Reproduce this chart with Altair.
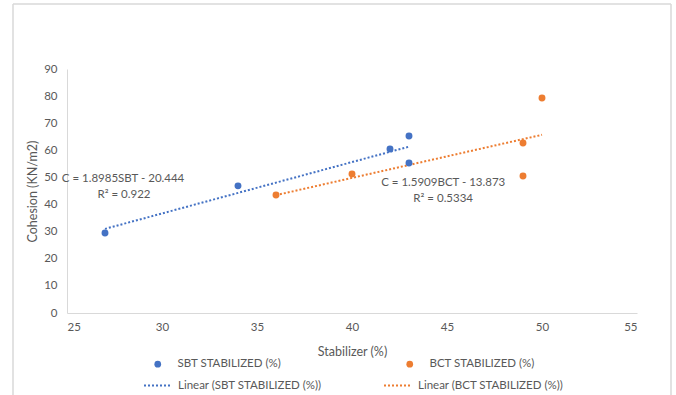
import altair as alt
import pandas as pd

# ---- data ----
sbt_x = [27, 34, 42, 43, 43]
sbt_y = [29.5, 46.9, 60.5, 65.3, 55.3]
bct_x = [36, 40, 49, 49, 50]
bct_y = [43.5, 51.3, 62.7, 50.5, 79.3]

series_names = ["SBT STABILIZED (%)", "BCT STABILIZED (%)"]
trend_names = ["Linear (SBT STABILIZED (%))", "Linear (BCT STABILIZED (%))"]
colors = ["#4472C4", "#ED7D31"]

ann_x = [27.95, 28.0, 44.8, 44.8]
ann_y = [49.4, 43.6, 48.0, 42.1]
ann_text = ["C = 1.8985SBT - 20.444", "R\u00b2 = 0.922",
            "C = 1.5909BCT - 13.873", "R\u00b2 = 0.5334"]

x_ticks = [25, 30, 35, 40, 45, 50, 55]
y_ticks = [0, 10, 20, 30, 40, 50, 60, 70, 80, 90]

df = pd.DataFrame({
    "x": sbt_x + bct_x,
    "y": sbt_y + bct_y,
    "series": [series_names[0]] * len(sbt_x) + [series_names[1]] * len(bct_x),
})
ann = pd.DataFrame({"x": ann_x, "y": ann_y, "text": ann_text})

FONT = "Lato"
GREY = "#595959"

xscale = alt.Scale(domain=[25, 55], nice=False)
yscale = alt.Scale(domain=[0, 90], nice=False)

xaxis = alt.Axis(values=x_ticks, grid=False, ticks=False, domainColor="#d9d9d9",
                 labelColor=GREY, labelFontSize=11.5, labelPadding=8, labelFont=FONT,
                 labelOverlap=False,
                 title="Stabilizer (%)", titleColor=GREY, titleFontSize=12.5,
                 titleFont=FONT, titleFontWeight="normal", titlePadding=13)
yaxis = alt.Axis(values=y_ticks, grid=False, ticks=False, domainColor="#d9d9d9",
                 labelColor=GREY, labelFontSize=11.5, labelPadding=10, labelFont=FONT,
                 labelOverlap=False,
                 title="Cohesion (KN/m2)", titleColor=GREY, titleFontSize=12.5,
                 titleFont=FONT, titleFontWeight="normal", titlePadding=4)

X = alt.X("x:Q", scale=xscale, axis=xaxis)
Y = alt.Y("y:Q", scale=yscale, axis=yaxis)

base = alt.Chart(df)

points = base.mark_circle(size=48, opacity=1).encode(
    x=X, y=Y,
    fill=alt.Fill("series:N",
                  scale=alt.Scale(domain=series_names, range=colors),
                  legend=alt.Legend(title=None, orient="none", legendX=85, legendY=289,
                                    direction="horizontal", columns=2, columnPadding=122,
                                    symbolType="circle", symbolSize=45,
                                    labelColor=GREY, labelFontSize=11.5, labelFont=FONT,
                                    labelOffset=14)),
)

trend = base.transform_regression(
    "x", "y", groupby=["series"]
).transform_calculate(
    trend="'Linear (' + datum.series + ')'"
).mark_line(strokeDash=[2, 2], strokeWidth=2).encode(
    x=X, y=Y,
    stroke=alt.Stroke("trend:N",
                      scale=alt.Scale(domain=trend_names, range=colors),
                      legend=alt.Legend(title=None, orient="none", legendX=76, legendY=302,
                                        direction="horizontal", columns=2, columnPadding=58,
                                        symbolType="stroke", symbolSize=729,
                                        symbolStrokeWidth=2, symbolDash=[2, 2],
                                        labelColor=GREY, labelFontSize=11.5, labelFont=FONT,
                                        labelOffset=6)),
)

texts = alt.Chart(ann).mark_text(fontSize=11.5, font=FONT, color=GREY, align="center").encode(
    x=X, y=Y, text="text:N",
)

# outer frame of the chart area (decoration)
fdf = pd.DataFrame({"k": [0]})
frame_left = alt.Chart(fdf).mark_rule(color="#d9d9d9", strokeWidth=1.5, clip=False).encode(
    x=alt.value(-54), y=alt.value(-65), y2=alt.value(400))
frame_right = alt.Chart(fdf).mark_rule(color="#d9d9d9", strokeWidth=1.5, clip=False).encode(
    x=alt.value(604), y=alt.value(-65), y2=alt.value(400))
frame_top = alt.Chart(fdf).mark_rule(color="#d9d9d9", strokeWidth=1.5, clip=False).encode(
    x=alt.value(-54), x2=alt.value(604), y=alt.value(-65))

chart = alt.layer(frame_left, frame_right, frame_top, trend, points, texts).resolve_scale(
    fill="independent", stroke="independent"
).properties(
    width=570, height=244,
    autosize=alt.AutoSizeParams(type="none"),
    padding={"left": 67, "top": 69, "right": 39, "bottom": 82},
).configure(background="white").configure_view(stroke=None, strokeWidth=0)

chart.save("out.html", embed_options={"renderer": "svg", "actions": False})
